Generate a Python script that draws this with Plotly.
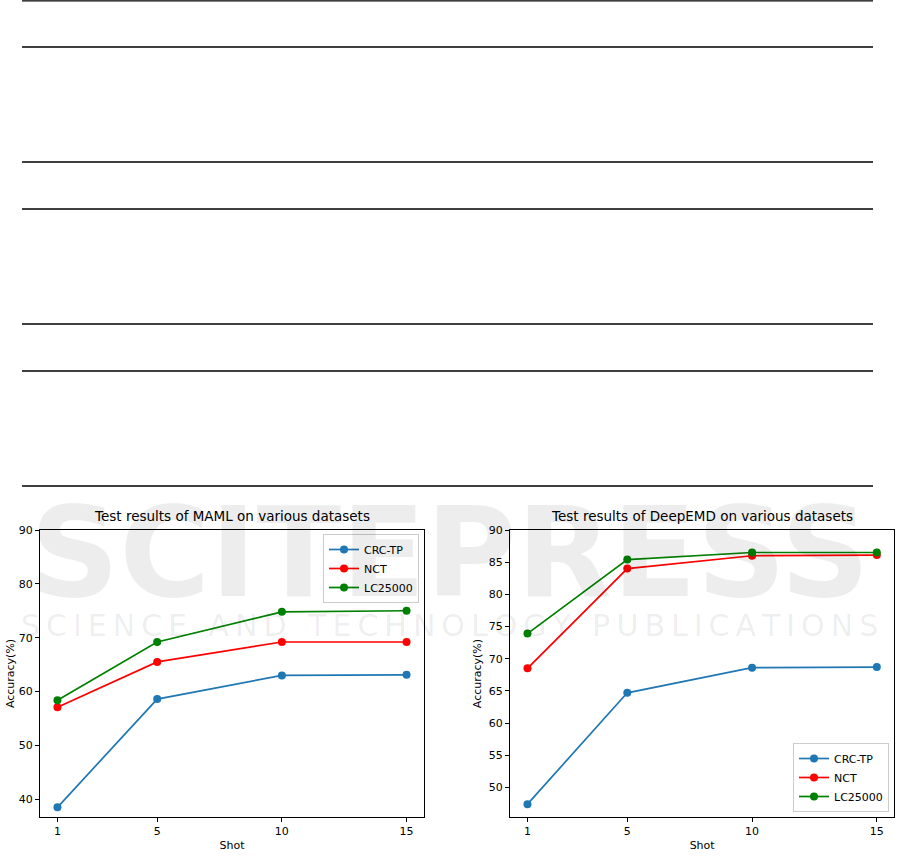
import plotly.graph_objects as go

W, H = 901, 858

# data
shots = [1, 5, 10, 15]
maml_crc_tp = [38.5, 58.6, 63.0, 63.1]
maml_nct = [57.1, 65.5, 69.2, 69.2]
maml_lc25000 = [58.4, 69.2, 74.8, 75.0]
deepemd_crc_tp = [47.4, 64.7, 68.6, 68.7]
deepemd_nct = [68.5, 84.0, 86.0, 86.1]
deepemd_lc25000 = [73.9, 85.4, 86.5, 86.5]

series_names = ["CRC-TP", "NCT", "LC25000"]
series_colors = ["#1f77b4", "#ff0000", "#008000"]
titles = ["Test results of MAML on various datasets",
          "Test results of DeepEMD on various datasets"]

# table rules above the figure (pixel rows)
rule_rows = [0.8, 47, 162, 209, 324, 371, 486]


def px_x(v):
    return v / W


def px_y(v):
    return 1 - v / H


def spaced(s, gap="\u2009"):
    # loose letter spacing for the watermark
    return gap.join(s)


FONT = "DejaVu Sans"

fig = go.Figure()

panels = [
    ("x", "y", "legend", [maml_crc_tp, maml_nct, maml_lc25000]),
    ("x2", "y2", "legend2", [deepemd_crc_tp, deepemd_nct, deepemd_lc25000]),
]
for xa, ya, leg, data in panels:
    for name, color, vals in zip(series_names, series_colors, data):
        fig.add_trace(go.Scatter(
            x=shots, y=vals, name=name, mode="lines+markers",
            line=dict(color=color, width=1.7),
            marker=dict(color=color, size=8),
            xaxis=xa, yaxis=ya, legend=leg,
        ))

axis_common = dict(
    showline=True, mirror=True, linecolor="black", linewidth=1,
    ticks="outside", ticklen=4, tickcolor="black", tickwidth=1,
    showgrid=False, zeroline=False,
    tickfont=dict(family=FONT, size=11, color="black"),
    title_font=dict(family=FONT, size=11, color="black"),
)

x_dom1 = [px_x(40), px_x(424)]
x_dom2 = [px_x(510), px_x(894.3)]
y_dom = [px_y(817), px_y(530)]

fig.update_layout(
    width=W, height=H,
    margin=dict(l=0, r=0, t=0, b=0),
    template="none",
    paper_bgcolor="white", plot_bgcolor="rgba(0,0,0,0)",
    font=dict(family=FONT, size=11, color="black"),
    xaxis=dict(domain=x_dom1, range=[0.3, 15.7], tickvals=shots,
               title=dict(text="Shot", standoff=4), anchor="y", **axis_common),
    yaxis=dict(domain=y_dom, range=[36.7, 90], dtick=10,
               title=dict(text="Accuracy(%)", standoff=1), anchor="x", **axis_common),
    xaxis2=dict(domain=x_dom2, range=[0.3, 15.7], tickvals=shots,
                title=dict(text="Shot", standoff=4), anchor="y2", **axis_common),
    yaxis2=dict(domain=y_dom, range=[45.4, 90], dtick=5,
                title=dict(text="Accuracy(%)", standoff=4), anchor="x2", **axis_common),
    legend=dict(x=px_x(419), y=px_y(534), xanchor="right", yanchor="top",
                bgcolor="white", bordercolor="#cccccc", borderwidth=1,
                font=dict(family=FONT, size=11), tracegroupgap=0),
    legend2=dict(x=px_x(889), y=px_y(812), xanchor="right", yanchor="bottom",
                 bgcolor="white", bordercolor="#cccccc", borderwidth=1,
                 font=dict(family=FONT, size=11), tracegroupgap=0),
    showlegend=True,
)

# panel titles
for dom, text in zip([x_dom1, x_dom2], titles):
    fig.add_annotation(
        text=text, xref="paper", yref="paper",
        x=(dom[0] + dom[1]) / 2, y=px_y(526), xanchor="center", yanchor="bottom",
        showarrow=False, font=dict(family=FONT, size=13.5, color="black"),
    )

# faint publisher watermark
fig.add_annotation(
    text="<b>SCITEPRESS</b>", xref="paper", yref="paper",
    x=px_x(450), y=px_y(553), xanchor="center", yanchor="middle",
    showarrow=False, font=dict(family=FONT, size=124, color="rgba(0,0,0,0.07)"),
)
fig.add_annotation(
    text=spaced("SCIENCE AND TECHNOLOGY PUBLICATIONS"), xref="paper", yref="paper",
    x=px_x(449), y=px_y(625), xanchor="center", yanchor="middle",
    showarrow=False, font=dict(family=FONT, size=30, color="rgba(0,0,0,0.08)"),
)

# table rules
for r in rule_rows:
    fig.add_shape(type="line", xref="paper", yref="paper",
                  x0=px_x(22), x1=px_x(873), y0=px_y(r), y1=px_y(r),
                  line=dict(color="black", width=1.3))

fig.write_html("out.html", config={"displayModeBar": False},
               post_script="document.body.style.margin='0';")
